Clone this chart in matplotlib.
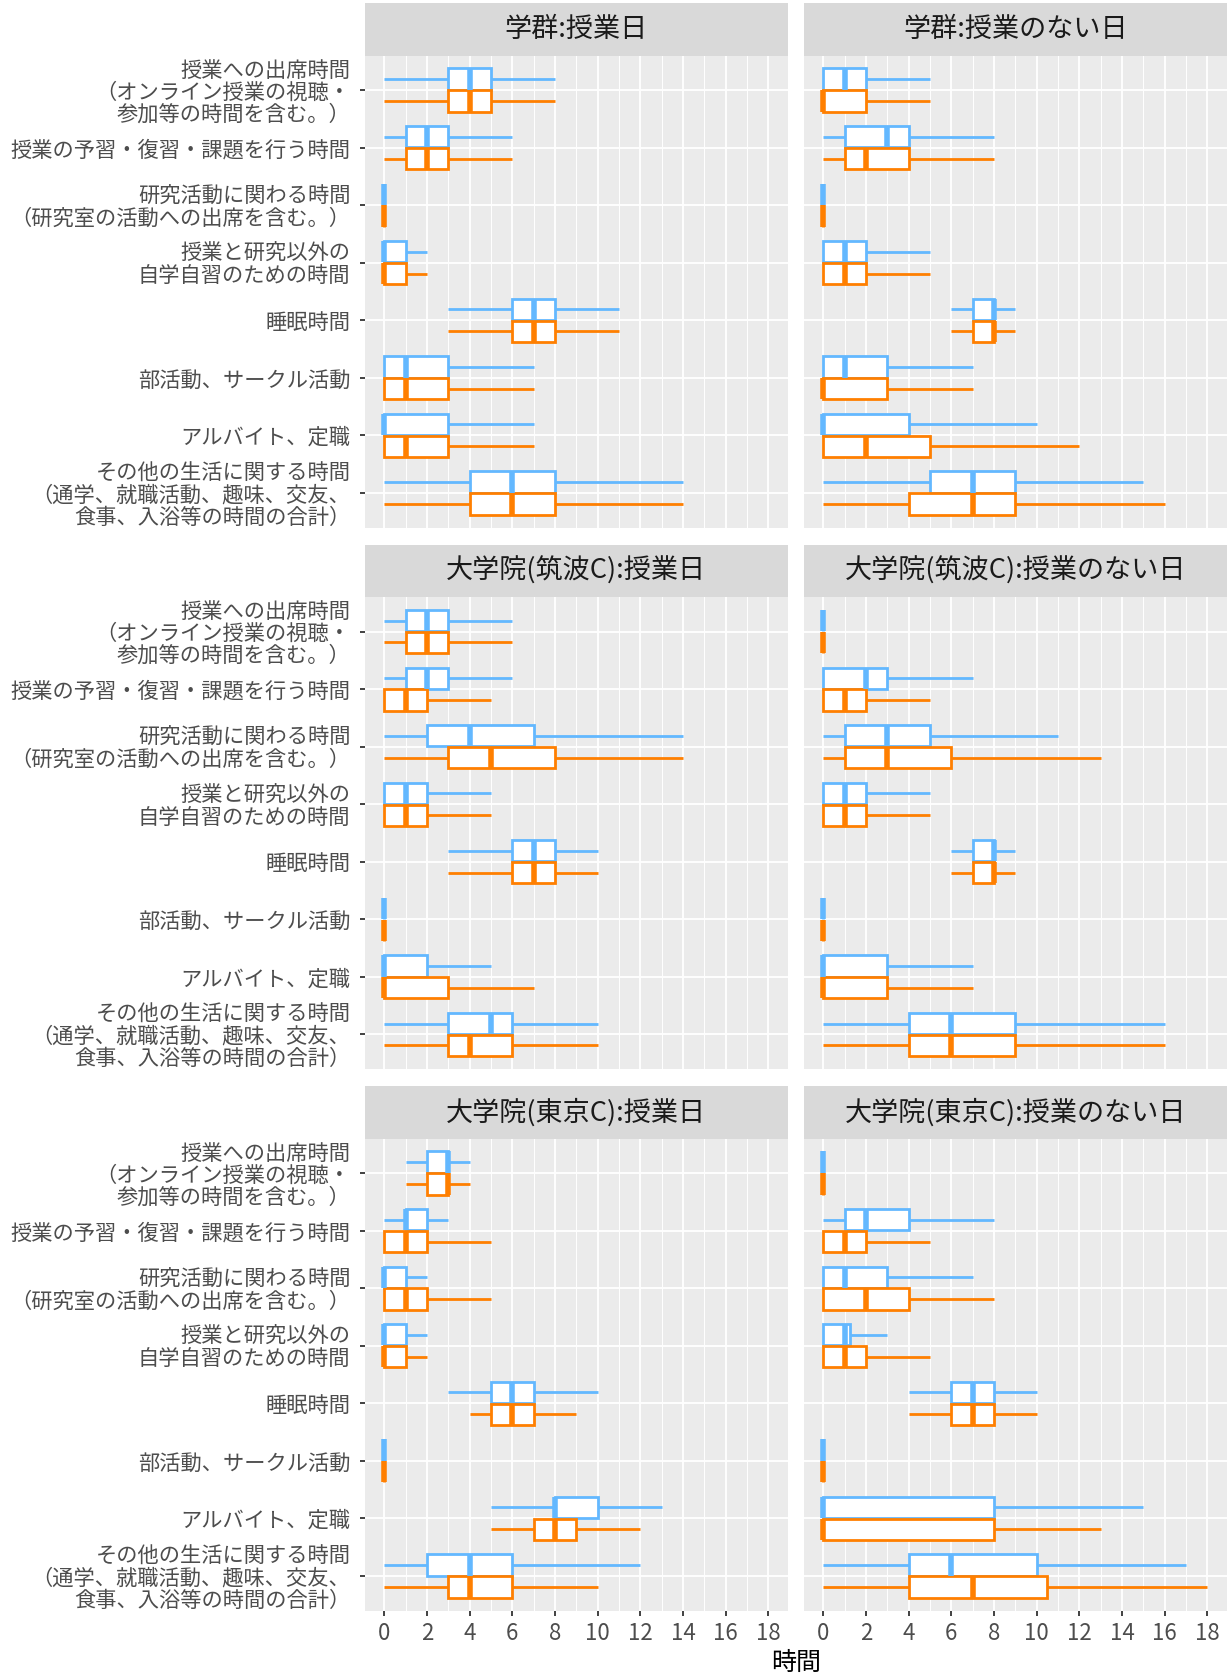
import matplotlib
matplotlib.use("Agg")
import matplotlib.pyplot as plt

plt.rcParams['font.family'] = ['Noto Sans CJK JP', 'DejaVu Sans']

# Activity categories (top to bottom)
categories = [
    "授業への出席時間\n（オンライン授業の視聴・\n参加等の時間を含む。）",
    "授業の予習・復習・課題を行う時間",
    "研究活動に関わる時間\n（研究室の活動への出席を含む。）",
    "授業と研究以外の\n自学自習のための時間",
    "睡眠時間",
    "部活動、サークル活動",
    "アルバイト、定職",
    "その他の生活に関する時間\n（通学、就職活動、趣味、交友、\n食事、入浴等の時間の合計）",
]

panel_titles = [
    "学群:授業日", "学群:授業のない日",
    "大学院(筑波C):授業日", "大学院(筑波C):授業のない日",
    "大学院(東京C):授業日", "大学院(東京C):授業のない日",
]

# Five-number summaries (whisker low, Q1, median, Q3, whisker high), hours
ug_class_first = [(0, 3, 4, 5, 8), (0, 1, 2, 3, 6), (0, 0, 0, 0, 0), (0, 0, 0, 1, 2),
                  (3, 6, 7, 8, 11), (0, 0, 1, 3, 7), (0, 0, 0, 3, 7), (0, 4, 6, 8, 14)]
ug_class_second = [(0, 3, 4, 5, 8), (0, 1, 2, 3, 6), (0, 0, 0, 0, 0), (0, 0, 0, 1, 2),
                   (3, 6, 7, 8, 11), (0, 0, 1, 3, 7), (0, 0, 1, 3, 7), (0, 4, 6, 8, 14)]

ug_free_first = [(0, 0, 1, 2, 5), (0, 1, 3, 4, 8), (0, 0, 0, 0, 0), (0, 0, 1, 2, 5),
                 (6, 7, 8, 8, 9), (0, 0, 1, 3, 7), (0, 0, 0, 4, 10), (0, 5, 7, 9, 15)]
ug_free_second = [(0, 0, 0, 2, 5), (0, 1, 2, 4, 8), (0, 0, 0, 0, 0), (0, 0, 1, 2, 5),
                  (6, 7, 8, 8, 9), (0, 0, 0, 3, 7), (0, 0, 2, 5, 12), (0, 4, 7, 9, 16)]

tsukuba_class_first = [(0, 1, 2, 3, 6), (0, 1, 2, 3, 6), (0, 2, 4, 7, 14), (0, 0, 1, 2, 5),
                       (3, 6, 7, 8, 10), (0, 0, 0, 0, 0), (0, 0, 0, 2, 5), (0, 3, 5, 6, 10)]
tsukuba_class_second = [(0, 1, 2, 3, 6), (0, 0, 1, 2, 5), (0, 3, 5, 8, 14), (0, 0, 1, 2, 5),
                        (3, 6, 7, 8, 10), (0, 0, 0, 0, 0), (0, 0, 0, 3, 7), (0, 3, 4, 6, 10)]

tsukuba_free_first = [(0, 0, 0, 0, 0), (0, 0, 2, 3, 7), (0, 1, 3, 5, 11), (0, 0, 1, 2, 5),
                      (6, 7, 8, 8, 9), (0, 0, 0, 0, 0), (0, 0, 0, 3, 7), (0, 4, 6, 9, 16)]
tsukuba_free_second = [(0, 0, 0, 0, 0), (0, 0, 1, 2, 5), (0, 1, 3, 6, 13), (0, 0, 1, 2, 5),
                       (6, 7, 8, 8, 9), (0, 0, 0, 0, 0), (0, 0, 0, 3, 7), (0, 4, 6, 9, 16)]

tokyo_class_first = [(1, 2, 3, 3, 4), (0, 1, 1, 2, 3), (0, 0, 0, 1, 2), (0, 0, 0, 1, 2),
                     (3, 5, 6, 7, 10), (0, 0, 0, 0, 0), (5, 8, 8, 10, 13), (0, 2, 4, 6, 12)]
tokyo_class_second = [(1, 2, 3, 3, 4), (0, 0, 1, 2, 5), (0, 0, 1, 2, 5), (0, 0, 0, 1, 2),
                      (4, 5, 6, 7, 9), (0, 0, 0, 0, 0), (5, 7, 8, 9, 12), (0, 3, 4, 6, 10)]

tokyo_free_first = [(0, 0, 0, 0, 0), (0, 1, 2, 4, 8), (0, 0, 1, 3, 7), (0, 0, 1, 1.25, 3),
                    (4, 6, 7, 8, 10), (0, 0, 0, 0, 0), (0, 0, 0, 8, 15), (0, 4, 6, 10, 17)]
tokyo_free_second = [(0, 0, 0, 0, 0), (0, 0, 1, 2, 5), (0, 0, 2, 4, 8), (0, 0, 1, 2, 5),
                     (4, 6, 7, 8, 10), (0, 0, 0, 0, 0), (0, 0, 0, 8, 13), (0, 4, 7, 10.5, 18)]

panel_data = [
    (ug_class_first, ug_class_second), (ug_free_first, ug_free_second),
    (tsukuba_class_first, tsukuba_class_second), (tsukuba_free_first, tsukuba_free_second),
    (tokyo_class_first, tokyo_class_second), (tokyo_free_first, tokyo_free_second),
]

x_ticks = list(range(0, 19, 2))
x_title = "時間"

COLOR_FIRST = "#63B8FF"
COLOR_SECOND = "#FF7F00"
PANEL_BG = "#EBEBEB"
STRIP_BG = "#D9D9D9"

W, H = 1232, 1677
DPI = 100
fig = plt.figure(figsize=(W / DPI, H / DPI), dpi=DPI)
fig.patch.set_facecolor("white")

col_left = [365, 804]
panel_w = 422.5
strip_h = 52.5
panel_h = 472
row_period = strip_h + panel_h + 17
top0 = 3


def frac_rect(x0, y0, w, h):
    return [x0 / W, 1 - (y0 + h) / H, w / W, h / H]


def to_stats(rows):
    return [dict(whislo=r[0], q1=r[1], med=r[2], q3=r[3], whishi=r[4], fliers=[])
            for r in rows]


n = len(categories)
ypos = list(range(1, n + 1))
offset = 0.19
box_w = 0.37

for idx, (title, (first, second)) in enumerate(zip(panel_titles, panel_data)):
    r, c = divmod(idx, 2)
    strip_top = top0 + r * row_period
    x0 = col_left[c]

    # facet strip
    sax = fig.add_axes(frac_rect(x0, strip_top, panel_w, strip_h))
    sax.set_facecolor(STRIP_BG)
    sax.set_xticks([])
    sax.set_yticks([])
    for s in sax.spines.values():
        s.set_visible(False)
    sax.text(0.5, 0.5, title, ha="center", va="center", fontsize=19.5,
             color="#1A1A1A", transform=sax.transAxes)

    ax = fig.add_axes(frac_rect(x0, strip_top + strip_h, panel_w, panel_h))
    ax.set_facecolor(PANEL_BG)
    ax.set_axisbelow(True)

    for rows, color, sign in ((first, COLOR_FIRST, -1), (second, COLOR_SECOND, 1)):
        ax.bxp(to_stats(rows), positions=[y + sign * offset for y in ypos],
               widths=box_w, orientation="horizontal", patch_artist=True,
               showcaps=False, showfliers=False, manage_ticks=False,
               boxprops=dict(facecolor="white", edgecolor=color, linewidth=2.0),
               whiskerprops=dict(color=color, linewidth=2.0, solid_capstyle="butt"),
               medianprops=dict(color=color, linewidth=4.0, solid_capstyle="butt"))

    ax.set_xlim(-0.9, 18.9)
    ax.set_ylim(n + 0.6, 0.4)
    ax.set_xticks(x_ticks)
    ax.set_xticks(list(range(1, 18, 2)), minor=True)
    ax.set_yticks(ypos)
    ax.grid(which="major", color="white", linewidth=1.3)
    ax.grid(which="minor", axis="x", color="white", linewidth=0.7)
    for s in ax.spines.values():
        s.set_visible(False)

    ax.tick_params(which="minor", length=0)
    ax.tick_params(which="major", length=3.5, width=1.3, color="#333333",
                   labelcolor="#4D4D4D", labelsize=15.3)
    if c == 0:
        ax.set_yticklabels(categories, ha="right", multialignment="right",
                           linespacing=1.0)
        ax.tick_params(axis="y", pad=7)
    else:
        ax.tick_params(axis="y", length=0, labelleft=False)
    if r == 2:
        ax.set_xticklabels([str(t) for t in x_ticks])
        ax.tick_params(axis="x", pad=5, labelsize=16)
    else:
        ax.tick_params(axis="x", length=0, labelbottom=False)

fig.text((365 + 804 + panel_w) / 2 / W, 1 - 1663 / H, x_title, ha="center",
         va="center", fontsize=18, color="black")

fig.savefig("out.png", dpi=DPI, facecolor="white")
